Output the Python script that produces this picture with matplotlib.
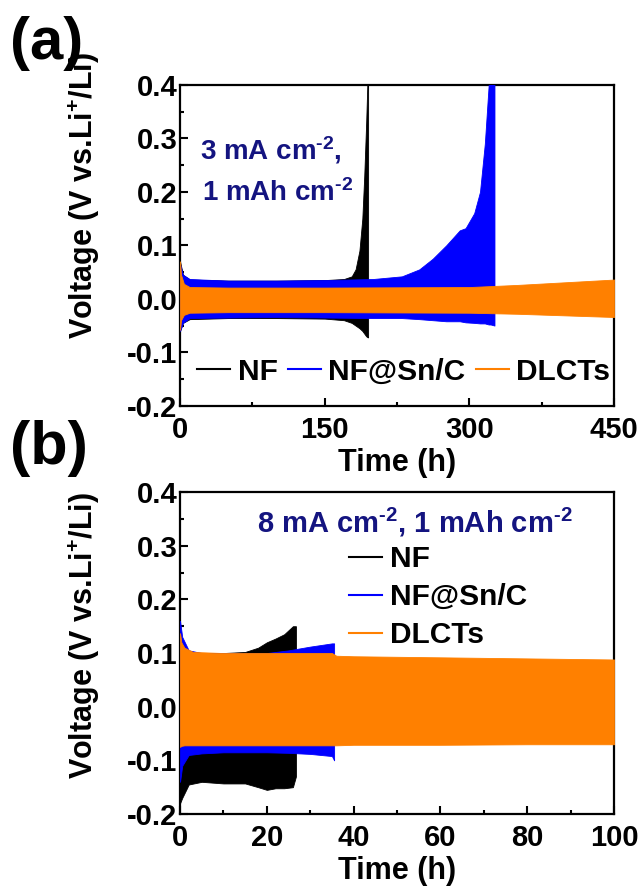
import matplotlib
matplotlib.use("Agg")
import matplotlib.pyplot as plt
from matplotlib.ticker import MultipleLocator
from matplotlib.lines import Line2D

plt.rcParams['font.family'] = ['Liberation Sans', 'DejaVu Sans']
plt.rcParams['font.weight'] = 'bold'
plt.rcParams['mathtext.fontset'] = 'custom'
plt.rcParams['mathtext.rm'] = 'Liberation Sans:bold'
plt.rcParams['mathtext.bf'] = 'Liberation Sans:bold'
plt.rcParams['mathtext.default'] = 'bf'
plt.rcParams['axes.unicode_minus'] = False

labels = ['NF', 'NF@Sn/C', 'DLCTs']
colors = ['black', '#0000ff', '#ff8000']
navy = '#141480'

# ---- panel (a): 3 mA cm-2, 1 mAh cm-2 (envelopes of the voltage profile)
a_nf_t = [0, 3, 10, 50, 100, 150, 170, 178, 182, 186, 189, 191, 193, 194.5, 195]
a_nf_up = [0.07, 0.045, 0.036, 0.034, 0.034, 0.035, 0.037, 0.042, 0.055, 0.09, 0.15, 0.23, 0.33, 0.42, 0.42]
a_nf_lo = [-0.06, -0.045, -0.038, -0.036, -0.036, -0.037, -0.04, -0.045, -0.05, -0.055, -0.06, -0.065, -0.07, -0.072, -0.072]

a_sn_t = [0, 3, 10, 50, 100, 150, 200, 230, 248, 262, 276, 290, 296, 305, 311, 316, 320, 322, 326]
a_sn_up = [0.065, 0.045, 0.037, 0.034, 0.034, 0.035, 0.037, 0.042, 0.055, 0.075, 0.10, 0.128, 0.132, 0.16, 0.2, 0.29, 0.4, 0.42, 0.42]
a_sn_lo = [-0.06, -0.045, -0.036, -0.035, -0.034, -0.035, -0.036, -0.036, -0.038, -0.04, -0.042, -0.042, -0.044, -0.045, -0.046, -0.046, -0.048, -0.048, -0.05]

a_dl_t = [0, 1, 4, 10, 50, 150, 300, 350, 450]
a_dl_up = [0.07, 0.045, 0.028, 0.022, 0.021, 0.021, 0.022, 0.026, 0.036]
a_dl_lo = [-0.058, -0.04, -0.03, -0.026, -0.025, -0.025, -0.026, -0.028, -0.034]

# ---- panel (b): 8 mA cm-2, 1 mAh cm-2
b_nf_t = [0, 0.5, 2, 5, 10, 15, 18, 20, 22, 24, 26, 26.7]
b_nf_up = [0.12, 0.11, 0.10, 0.10, 0.10, 0.102, 0.11, 0.12, 0.127, 0.135, 0.15, 0.15]
b_nf_lo = [-0.18, -0.17, -0.145, -0.14, -0.143, -0.143, -0.15, -0.155, -0.152, -0.152, -0.15, -0.13]

b_sn_t = [0, 0.5, 2, 5, 10, 20, 25, 30, 35, 35.5]
b_sn_up = [0.16, 0.13, 0.105, 0.1, 0.1, 0.1, 0.105, 0.112, 0.118, 0.118]
b_sn_lo = [-0.14, -0.11, -0.09, -0.087, -0.085, -0.085, -0.086, -0.088, -0.092, -0.1]

b_dl_t = [0, 0.3, 1, 3, 10, 20, 30, 35, 36, 40, 60, 80, 100]
b_dl_up = [0.137, 0.12, 0.11, 0.102, 0.1, 0.1, 0.1, 0.1, 0.095, 0.094, 0.092, 0.09, 0.088]
b_dl_lo = [-0.075, -0.073, -0.072, -0.072, -0.072, -0.072, -0.072, -0.072, -0.072, -0.071, -0.071, -0.07, -0.07]

FS = 21


def style(ax, xmax, xmaj, ylab_y):
    ax.set_xlim(0, xmax)
    ax.set_ylim(-0.2, 0.4)
    ax.xaxis.set_major_locator(MultipleLocator(xmaj))
    ax.xaxis.set_minor_locator(MultipleLocator(xmaj / 2))
    ax.yaxis.set_major_locator(MultipleLocator(0.1))
    ax.yaxis.set_minor_locator(MultipleLocator(0.05))
    ax.yaxis.set_major_formatter(plt.FormatStrFormatter('%.1f'))
    ax.tick_params(which='both', direction='in', width=1.5, labelsize=FS)
    ax.tick_params(axis='x', pad=7)
    ax.tick_params(axis='y', pad=2)
    ax.tick_params(which='major', length=6)
    ax.tick_params(which='minor', length=3)
    for s in ax.spines.values():
        s.set_linewidth(1.6)
    ax.set_xlabel('Time (h)', fontsize=FS + 1, fontweight='bold', labelpad=3)
    ax.set_ylabel('Voltage (V vs.Li$^{+}$/Li)', fontsize=FS + 1, fontweight='bold')
    ax.yaxis.set_label_coords(-0.18, ylab_y)


def draw(ax, series):
    for i, (t, up, lo) in enumerate(series):
        ax.fill_between(t, lo, up, color=colors[i], lw=0.6, edgecolor=colors[i], zorder=2 + i)


fig = plt.figure(figsize=(6.43, 8.88), dpi=100)
ax1 = fig.add_axes([0.280, 0.543, 0.675, 0.3615])
ax2 = fig.add_axes([0.280, 0.0833, 0.675, 0.3626])

draw(ax1, [(a_nf_t, a_nf_up, a_nf_lo), (a_sn_t, a_sn_up, a_sn_lo), (a_dl_t, a_dl_up, a_dl_lo)])
draw(ax2, [(b_nf_t, b_nf_up, b_nf_lo), (b_sn_t, b_sn_up, b_sn_lo), (b_dl_t, b_dl_up, b_dl_lo)])
style(ax1, 450, 150, 0.655)
style(ax2, 100, 20, 0.553)

handles = [Line2D([], [], color=c, lw=1.5) for c in colors]

ax1.text(0.046, 0.797, r'3 mA cm$^{\text{-2}}$,', transform=ax1.transAxes, color=navy,
         fontsize=FS - 1, fontweight='bold', va='center', ha='left', zorder=10)
ax1.text(0.050, 0.664, r'1 mAh cm$^{\text{-2}}$', transform=ax1.transAxes, color=navy,
         fontsize=FS - 1, fontweight='bold', va='center', ha='left', zorder=10)
ax1.legend(handles, labels, loc='center left', bbox_to_anchor=(0.04, 0.106), ncol=3,
           frameon=False, fontsize=FS + 0.5, handlelength=1.1, handletextpad=0.25,
           columnspacing=0.35, borderaxespad=0, borderpad=0)

ax2.text(0.54, 0.907, r'8 mA cm$^{\text{-2}}$, 1 mAh cm$^{\text{-2}}$', transform=ax2.transAxes,
         color=navy, fontsize=FS, fontweight='bold', va='center', ha='center', zorder=10)
ax2.legend(handles, labels, loc='upper left', bbox_to_anchor=(0.39, 0.835), ncol=1,
           frameon=False, fontsize=FS + 0.5, handlelength=1.1, handletextpad=0.25,
           labelspacing=0.34, borderaxespad=0, borderpad=0)

fig.text(0.016, 0.951, '(a)', fontsize=43, fontweight='bold', va='center', ha='left')
fig.text(0.016, 0.495, '(b)', fontsize=44, fontweight='bold', va='center', ha='left')

fig.savefig('out.png', dpi=100)
